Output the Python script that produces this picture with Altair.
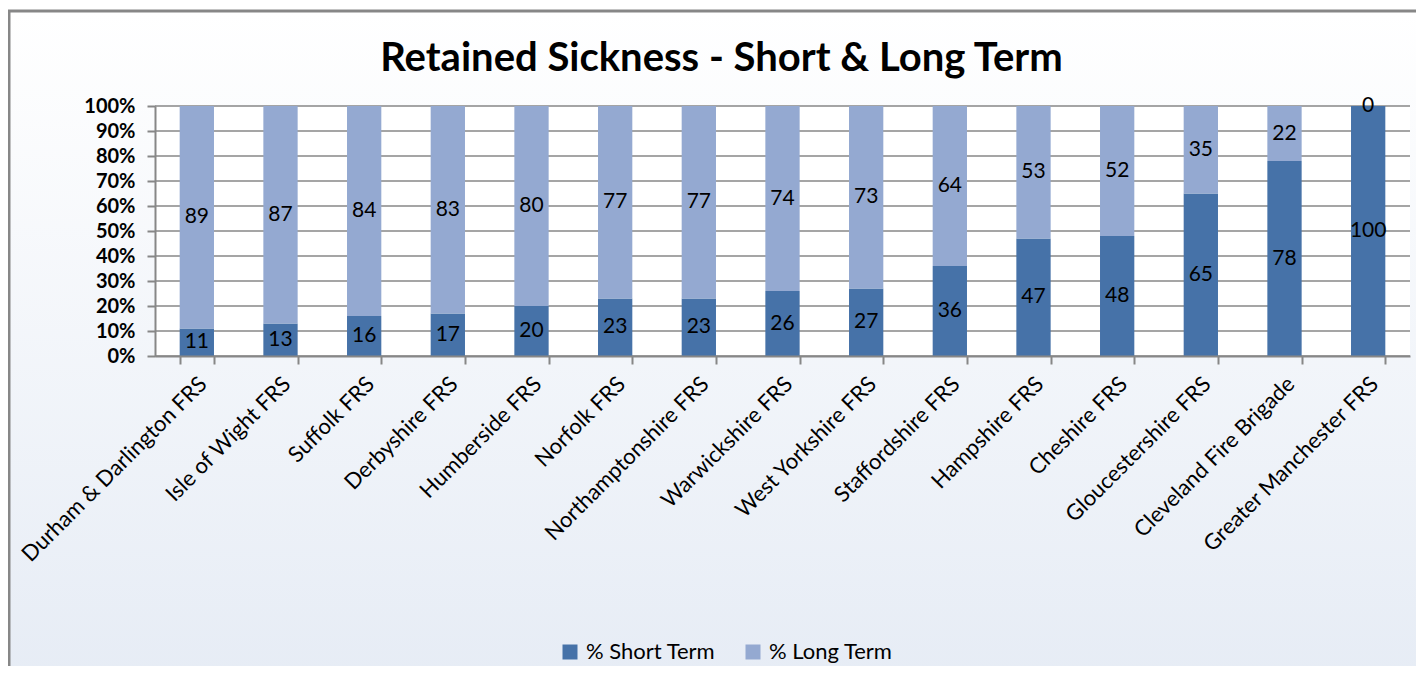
import altair as alt
import pandas as pd

categories = ["Durham & Darlington FRS", "Isle of Wight FRS", "Suffolk FRS", "Derbyshire FRS",
              "Humberside FRS", "Norfolk FRS", "Northamptonshire FRS", "Warwickshire FRS",
              "West Yorkshire FRS", "Staffordshire FRS", "Hampshire FRS", "Cheshire FRS",
              "Gloucestershire FRS", "Cleveland Fire Brigade", "Greater Manchester FRS"]
short_term = [11, 13, 16, 17, 20, 23, 23, 26, 27, 36, 47, 48, 65, 78, 100]
long_term = [89, 87, 84, 83, 80, 77, 77, 74, 73, 64, 53, 52, 35, 22, 0]
series_names = ["% Short Term", "% Long Term"]
series_colors = ["#4672a8", "#94a9d1"]
y_ticks = [0, 10, 20, 30, 40, 50, 60, 70, 80, 90, 100]
title_text = "Retained Sickness - Short & Long Term"

W, H = 1255, 250
FONT = "Lato"
GRAY = "#878787"

rows = []
for c, s, l in zip(categories, short_term, long_term):
    rows.append({"cat": c, "series": series_names[0], "value": s, "ord": 0, "mid": s / 2})
    rows.append({"cat": c, "series": series_names[1], "value": l, "ord": 1, "mid": s + l / 2})
df = pd.DataFrame(rows)
grid_df = pd.DataFrame({"v": y_ticks})
one = pd.DataFrame({"a": [0]})

yscale = alt.Scale(domain=[0, 100], nice=False)
xscale = alt.Scale(domain=categories, paddingInner=0.59, paddingOuter=0.295)

x_axis = alt.Axis(labelAngle=-45, labelAlign="right", labelBaseline="middle",
                  tickBand="extent", tickSize=8, tickColor=GRAY, tickWidth=2,
                  domainColor=GRAY, domainWidth=2, labelFont=FONT, labelFontSize=22,
                  labelColor="black", labelPadding=16, labelOffset=6, grid=False,
                  zindex=1, labelLimit=400, title=None)
y_axis = alt.Axis(values=y_ticks, labelExpr="datum.value + '%'", labelFont=FONT,
                  labelFontSize=20, labelFontWeight="bold", labelColor="black",
                  tickSize=8, tickColor=GRAY, tickWidth=2, domainColor=GRAY,
                  domainWidth=2, labelPadding=12, grid=False, zindex=1, title=None)

bg = alt.Chart(one).mark_rect(
    fill=alt.Gradient(gradient="linear", x1=0, y1=0, x2=0, y2=1,
                      stops=[alt.GradientStop(offset=0, color="#ffffff"),
                             alt.GradientStop(offset=1, color="#e6ecf5")]),
    stroke=GRAY, strokeWidth=3
).encode(x=alt.value(-146), x2=alt.value(W + 40), y=alt.value(-95), y2=alt.value(H + 330))

white = alt.Chart(one).mark_rect(fill="white").encode(
    x=alt.value(0), x2=alt.value(W), y=alt.value(0), y2=alt.value(H))

grid = alt.Chart(grid_df).mark_rule(color=GRAY, strokeWidth=1.5).encode(
    y=alt.Y("v:Q", scale=yscale, axis=y_axis))

bars = alt.Chart(df).mark_bar().encode(
    x=alt.X("cat:N", scale=xscale, sort=categories, axis=x_axis),
    y=alt.Y("value:Q", stack="zero", scale=yscale, axis=y_axis),
    color=alt.Color("series:N", scale=alt.Scale(domain=series_names, range=series_colors),
                    legend=alt.Legend(title=None, orient="none", legendX=404, legendY=535,
                                      direction="horizontal", symbolType="square",
                                      symbolSize=225, symbolStrokeWidth=0,
                                      labelFont=FONT, labelFontSize=22, labelColor="black",
                                      columnPadding=26, labelOffset=5)),
    order=alt.Order("ord:Q"),
)

labels = alt.Chart(df).mark_text(font=FONT, fontSize=21, color="black", baseline="middle").encode(
    x=alt.X("cat:N", scale=xscale, sort=categories, axis=x_axis),
    y=alt.Y("mid:Q", scale=yscale, axis=y_axis),
    text=alt.Text("value:Q"),
)

chart = alt.layer(bg, white, grid, bars, labels).properties(
    width=W, height=H,
    padding={"left": 147, "top": 98, "right": 6, "bottom": 310},
    autosize="none",
    title=alt.TitleParams(title_text, font=FONT, fontSize=40, fontWeight="bold",
                          color="black", anchor="middle", dx=-61, offset=-69),
).configure_view(stroke=None)

chart.save("out.html", embed_options={"renderer": "svg", "actions": False})
